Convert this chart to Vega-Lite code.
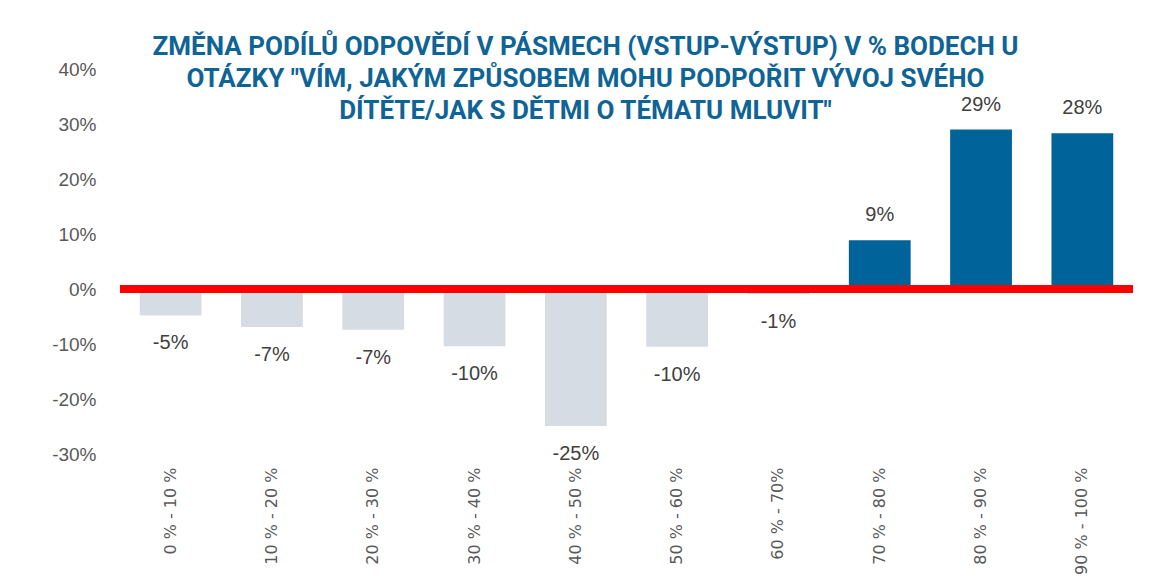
{
  "$schema": "https://vega.github.io/schema/vega-lite/v6.json",
  "autosize": "none",
  "width": 1013,
  "height": 385,
  "padding": {"left": 120, "top": 69, "right": 17, "bottom": 129},
  "background": "white",
  "title": {
    "text": ["ZMĚNA PODÍLŮ ODPOVĚDÍ V PÁSMECH (VSTUP-VÝSTUP) V % BODECH U", "OTÁZKY \"VÍM, JAKÝM ZPŮSOBEM MOHU PODPOŘIT VÝVOJ SVÉHO", "DÍTĚTE/JAK S DĚTMI O TÉMATU MLUVIT\""],
    "orient": "top",
    "anchor": "middle",
    "offset": -64,
    "dx": -41,
    "font": "Roboto",
    "fontSize": 26,
    "fontWeight": "bold",
    "color": "#0F6496",
    "lineHeight": 32
  },
  "data": {
    "values": [
      {"band": "0 % - 10 %", "value": -4.8, "label": "-5%"},
      {"band": "10 % - 20 %", "value": -6.9, "label": "-7%"},
      {"band": "20 % - 30 %", "value": -7.4, "label": "-7%"},
      {"band": "30 % - 40 %", "value": -10.4, "label": "-10%"},
      {"band": "40 % - 50 %", "value": -24.9, "label": "-25%"},
      {"band": "50 % - 60 %", "value": -10.5, "label": "-10%"},
      {"band": "60 % - 70%", "value": -0.9, "label": "-1%"},
      {"band": "70 % - 80 %", "value": 8.85, "label": "9%"},
      {"band": "80 % - 90 %", "value": 29.0, "label": "29%"},
      {"band": "90 % - 100 %", "value": 28.3, "label": "28%"}
    ]
  },
  "encoding": {
    "x": {
      "field": "band",
      "type": "nominal",
      "sort": null,
      "scale": {"paddingInner": 0.39, "paddingOuter": 0.195},
      "axis": {
        "title": null,
        "labelAngle": -90,
        "labelFont": "DejaVu Sans",
        "labelFontSize": 16,
        "labelColor": "#595959",
        "labelPadding": 13,
        "domain": false,
        "ticks": false,
        "grid": false
      }
    },
    "y": {
      "field": "value",
      "type": "quantitative",
      "scale": {"domain": [-30, 40], "nice": false, "zero": false},
      "axis": {
        "title": null,
        "values": [-30, -20, -10, 0, 10, 20, 30, 40],
        "labelExpr": "datum.value + '%'",
        "labelFont": "Liberation Sans",
        "labelFontSize": 19,
        "labelColor": "#595959",
        "labelPadding": 24,
        "domain": false,
        "ticks": false,
        "grid": false
      }
    }
  },
  "layer": [
    {
      "mark": {"type": "bar"},
      "encoding": {
        "y2": {"datum": 0},
        "color": {
          "condition": {"test": "datum.value >= 0", "value": "#006399"},
          "value": "#D6DCE4"
        }
      }
    },
    {
      "mark": {"type": "rule", "color": "#FF0000", "strokeWidth": 8},
      "encoding": {"y": {"datum": 0}, "x": {"value": 0}, "x2": {"value": 1013}}
    },
    {
      "transform": [{"filter": "datum.value >= 0"}],
      "mark": {"type": "text", "dy": -25, "baseline": "middle", "font": "Liberation Sans", "fontSize": 20, "color": "#404040"},
      "encoding": {"text": {"field": "label"}}
    },
    {
      "transform": [{"filter": "datum.value < 0"}],
      "mark": {"type": "text", "dy": 28, "baseline": "middle", "font": "Liberation Sans", "fontSize": 20, "color": "#404040"},
      "encoding": {"text": {"field": "label"}}
    }
  ],
  "config": {"view": {"stroke": null}}
}
